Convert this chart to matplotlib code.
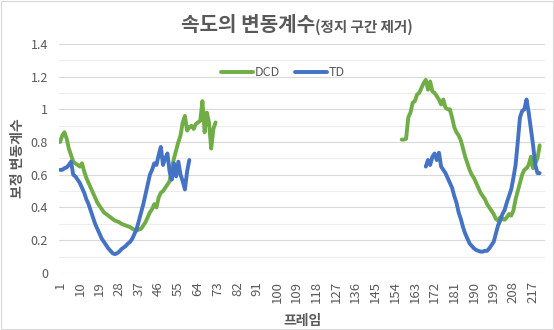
import numpy as np
import matplotlib
matplotlib.use("Agg")
import matplotlib.pyplot as plt

plt.rcParams['font.family'] = ['Noto Sans CJK KR', 'DejaVu Sans']

n_frames = 222

# DCD, first segment (frames 1-72)
dcd_start1 = 1
dcd_seg1 = [0.80, 0.84, 0.86, 0.82, 0.76, 0.72, 0.68, 0.67, 0.66, 0.65,
            0.67, 0.62, 0.58, 0.55, 0.52, 0.49, 0.46, 0.43, 0.41, 0.39,
            0.37, 0.36, 0.35, 0.34, 0.33, 0.32, 0.315, 0.31, 0.30, 0.295,
            0.29, 0.285, 0.28, 0.27, 0.265, 0.26, 0.265, 0.27, 0.29, 0.31,
            0.34, 0.37, 0.39, 0.42, 0.40, 0.46, 0.49, 0.50, 0.52, 0.54,
            0.56, 0.64, 0.70, 0.75, 0.80, 0.84, 0.92, 0.96, 0.87, 0.89,
            0.90, 0.88, 0.91, 0.92, 0.93, 1.05, 0.86, 0.98, 0.92, 0.76,
            0.88, 0.92]

# DCD, second segment (frames 157-220)
dcd_start2 = 157
dcd_seg2 = [0.815, 0.815, 0.82, 0.95, 0.98, 1.04, 1.05, 1.09, 1.10, 1.13,
            1.16, 1.18, 1.12, 1.17, 1.11, 1.10, 1.08, 1.06, 1.03, 1.06,
            1.01, 1.00, 1.00, 0.95, 0.89, 0.86, 0.84, 0.81, 0.76, 0.71,
            0.67, 0.63, 0.60, 0.58, 0.55, 0.52, 0.49, 0.47, 0.45, 0.42,
            0.40, 0.38, 0.36, 0.33, 0.32, 0.34, 0.33, 0.325, 0.34, 0.36,
            0.35, 0.38, 0.45, 0.50, 0.55, 0.60, 0.63, 0.64, 0.66, 0.71,
            0.64, 0.67, 0.70, 0.78]

# TD, first segment (frames 1-60)
td_start1 = 1
td_seg1 = [0.63, 0.63, 0.64, 0.645, 0.66, 0.68, 0.60, 0.59, 0.57, 0.55,
           0.52, 0.49, 0.45, 0.42, 0.38, 0.34, 0.30, 0.27, 0.24, 0.21,
           0.19, 0.17, 0.15, 0.135, 0.12, 0.115, 0.12, 0.13, 0.145, 0.155,
           0.165, 0.18, 0.19, 0.21, 0.24, 0.27, 0.32, 0.37, 0.42, 0.48,
           0.54, 0.60, 0.63, 0.67, 0.66, 0.72, 0.77, 0.66, 0.70, 0.73,
           0.62, 0.57, 0.67, 0.59, 0.68, 0.60, 0.56, 0.51, 0.62, 0.69]

# TD, second segment (frames 168-220)
td_start2 = 168
td_seg2 = [0.65, 0.69, 0.66, 0.71, 0.73, 0.69, 0.735, 0.65, 0.63, 0.61,
           0.58, 0.55, 0.52, 0.47, 0.43, 0.37, 0.33, 0.28, 0.24, 0.21,
           0.18, 0.165, 0.15, 0.14, 0.135, 0.13, 0.13, 0.135, 0.135, 0.15,
           0.17, 0.19, 0.24, 0.29, 0.32, 0.36, 0.385, 0.43, 0.47, 0.51,
           0.58, 0.66, 0.80, 0.95, 0.99, 1.00, 1.06, 0.98, 0.88, 0.78,
           0.66, 0.61, 0.61]

frames = np.arange(1, n_frames + 1)
dcd = np.full(n_frames, np.nan)
td = np.full(n_frames, np.nan)
dcd[dcd_start1 - 1:dcd_start1 - 1 + len(dcd_seg1)] = dcd_seg1
dcd[dcd_start2 - 1:dcd_start2 - 1 + len(dcd_seg2)] = dcd_seg2
td[td_start1 - 1:td_start1 - 1 + len(td_seg1)] = td_seg1
td[td_start2 - 1:td_start2 - 1 + len(td_seg2)] = td_seg2

gray = '#595959'

fig = plt.figure(figsize=(5.54, 3.3), dpi=100)
ax = fig.add_axes([0.1065, 0.173, 0.8775, 0.694])

ax.plot(frames, dcd, color='#70AD47', lw=2.8, label='DCD', solid_capstyle='round')
ax.plot(frames, td, color='#4472C4', lw=2.8, label='TD', solid_capstyle='round')

ax.set_xlim(0.5, n_frames + 0.5)
ax.set_ylim(0, 1.4)
ax.set_yticks(np.arange(0, 1.41, 0.2))
ax.set_yticklabels(['0', '0.2', '0.4', '0.6', '0.8', '1', '1.2', '1.4'])
ax.set_yticks(np.arange(0.1, 1.4, 0.2), minor=True)
ax.grid(axis='y', which='major', color='#D9D9D9', lw=0.8)
ax.grid(axis='y', which='minor', color='#EDEDED', lw=0.8)
ax.set_axisbelow(True)

xt = np.arange(1, n_frames + 1, 9)
ax.set_xticks(xt)
ax.set_xticklabels([str(v) for v in xt], rotation=90)

for s in ax.spines.values():
    s.set_visible(False)
ax.tick_params(axis='both', which='both', length=0, colors=gray)
ax.tick_params(axis='y', labelsize=9, pad=8)
ax.tick_params(axis='x', labelsize=9.5, pad=6)

ax.set_xlabel('프레임', fontsize=10, fontweight='bold', color=gray, labelpad=8)
ax.set_ylabel('보정 변동계수', fontsize=10, fontweight='bold', color=gray, labelpad=4)

fig.text(0.568, 0.925, '속도의 변동계수', fontsize=14.5, fontweight='bold',
         color=gray, ha='right', va='center')
fig.text(0.568, 0.918, '(정지 구간 제거)', fontsize=10.5, fontweight='bold',
         color=gray, ha='left', va='center')

ax.legend(loc='center', bbox_to_anchor=(0.46, 0.875), ncol=2, frameon=False,
          fontsize=9, labelcolor=gray, handlelength=2.6, handletextpad=0.1,
          columnspacing=1.2)

fig.patches.append(plt.Rectangle((0.002, 0.003), 0.996, 0.994, transform=fig.transFigure,
                                 fill=False, edgecolor='#D9D9D9', lw=0.8))

fig.savefig('out.png', dpi=100)
